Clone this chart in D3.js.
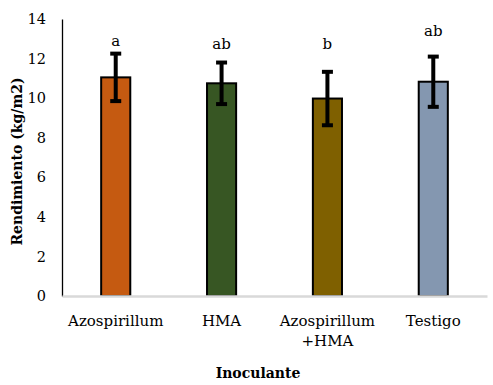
<!DOCTYPE html>
<html>
<head>
<meta charset="utf-8">
<script src="https://cdn.jsdelivr.net/npm/d3@7"></script>
<style>
  body { margin: 0; background: #fff; }
  svg text { font-family: "DejaVu Serif", serif !important; fill: #000; }
</style>
</head>
<body>
<div id="chart"></div>
<script>
// data
const categories = ["Azospirillum", "HMA", "Azospirillum\n+HMA", "Testigo"];
const yields = [11.05, 10.75, 9.98, 10.83];
const errors = [1.2, 1.05, 1.35, 1.27];
const letters = ["a", "ab", "b", "ab"];
const letterLevels = [12.62, 12.5, 12.5, 13.15];
const barColors = ["#C55A11", "#375623", "#7F6000", "#8497B0"];
const yTicks = [0, 2, 4, 6, 8, 10, 12, 14];

const chart = { width: 493, height: 385, margin: { top: 19, right: 6, bottom: 89, left: 62 } };
chart.innerWidth = chart.width - chart.margin.left - chart.margin.right;
chart.innerHeight = chart.height - chart.margin.top - chart.margin.bottom;

const svg = d3.select("#chart").append("svg")
    .attr("width", chart.width)
    .attr("height", chart.height);
const g = svg.append("g")
    .attr("transform", `translate(${chart.margin.left}, ${chart.margin.top})`);

const data = categories.map((c, i) => ({
    cat: c, value: yields[i], err: errors[i], letter: letters[i], letterY: letterLevels[i], color: barColors[i]
}));

const x = d3.scaleBand()
    .domain(categories)
    .range([0, chart.innerWidth])
    .paddingInner(0.725)
    .paddingOuter(0.37);

const y = d3.scaleLinear()
    .domain([0, 14])
    .range([chart.innerHeight, 0]);

// y axis: black line, no tick marks
const yAxis = g.append("g")
    .call(d3.axisLeft(y).tickValues(yTicks).tickSize(0).tickPadding(16));
yAxis.attr("font-family", null);
yAxis.select(".domain").attr("stroke", "#000").attr("stroke-width", 1.3);
yAxis.selectAll("text")
    .style("font-size", "14.5px")
    .attr("fill", "#000");

// bars
g.append("g").selectAll("rect")
    .data(data)
    .join("rect")
    .attr("x", d => x(d.cat))
    .attr("y", d => y(d.value))
    .attr("width", x.bandwidth())
    .attr("height", d => y(0) - y(d.value))
    .attr("fill", d => d.color)
    .attr("stroke", "#000")
    .attr("stroke-width", 2);

// x axis: light grey line
const xAxis = g.append("g")
    .attr("transform", `translate(0, ${chart.innerHeight})`)
    .call(d3.axisBottom(x).tickSize(0).tickFormat(""));
xAxis.select(".domain").attr("stroke", "#d9d9d9").attr("stroke-width", 2.5);

// category labels (multi-line)
const catLabels = g.append("g").selectAll("text")
    .data(data)
    .join("text")
    .attr("text-anchor", "middle")
    .style("font-size", "15px")
    .attr("transform", d => `translate(${x(d.cat) + x.bandwidth() / 2}, ${chart.innerHeight + 30})`);
catLabels.selectAll("tspan")
    .data(d => d.cat.split("\n"))
    .join("tspan")
    .attr("x", 0)
    .attr("dy", (d, i) => i === 0 ? 0 : 20)
    .text(d => d);

// error bars
const errG = g.append("g").attr("stroke", "#000").attr("stroke-width", 4);
data.forEach(d => {
    const cx = x(d.cat) + x.bandwidth() / 2;
    errG.append("line")
        .attr("x1", cx).attr("x2", cx)
        .attr("y1", y(d.value + d.err)).attr("y2", y(d.value - d.err));
    [d.value + d.err, d.value - d.err].forEach(v => {
        errG.append("line")
            .attr("x1", cx - 5.5).attr("x2", cx + 5.5)
            .attr("y1", y(v)).attr("y2", y(v));
    });
});

// significance letters
g.append("g").selectAll("text")
    .data(data)
    .join("text")
    .attr("x", d => x(d.cat) + x.bandwidth() / 2)
    .attr("y", d => y(d.letterY))
    .attr("text-anchor", "middle")
    .style("font-size", "15px")
    .text(d => d.letter);

// axis titles
svg.append("text")
    .text("Inoculante")
    .attr("text-anchor", "middle")
    .style("font-size", "14px")
    .style("font-weight", "bold")
    .attr("transform", `translate(258, 378)`);

svg.append("text")
    .text("Rendimiento (kg/m2)")
    .attr("text-anchor", "middle")
    .style("font-size", "14px")
    .style("font-weight", "bold")
    .attr("transform", `translate(22, ${chart.margin.top + chart.innerHeight / 2 + 4}) rotate(-90)`);
</script>
</body>
</html>
